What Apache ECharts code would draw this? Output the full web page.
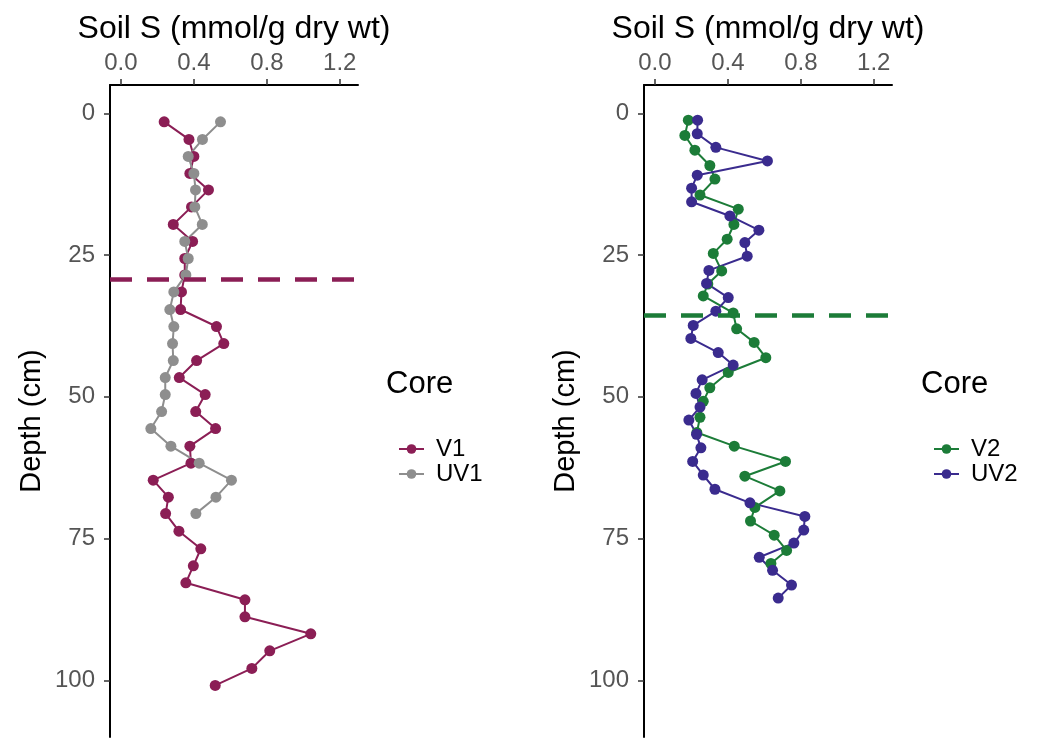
<!DOCTYPE html>
<html>
<head>
<meta charset="utf-8">
<script src="https://cdn.jsdelivr.net/npm/echarts@6/dist/echarts.min.js"></script>
<style>
  html, body { margin: 0; padding: 0; background: #fff; }
  #main { width: 1038px; height: 742px; }
</style>
</head>
<body>
<div id="main"></div>
<script>
// depth (cm) of each section
const v1Depth = [1.5, 4.6, 7.6, 10.6, 13.5, 16.5, 19.6, 22.6, 25.6, 28.5, 31.5, 34.6, 37.6, 40.6, 43.6, 46.6, 49.6, 52.6, 55.6, 58.7, 61.7, 64.7, 67.7, 70.6, 73.7, 76.8, 79.8, 82.8, 85.8, 88.8, 91.8, 94.8, 97.9, 100.9]
const v1S = [0.237, 0.373, 0.40, 0.378, 0.48, 0.387, 0.287, 0.393, 0.35, 0.35, 0.332, 0.327, 0.524, 0.564, 0.415, 0.32, 0.462, 0.41, 0.519, 0.378, 0.384, 0.177, 0.26, 0.245, 0.318, 0.438, 0.397, 0.356, 0.68, 0.68, 1.041, 0.816, 0.718, 0.517]

const uv1Depth = [1.5, 4.6, 7.6, 10.6, 13.5, 16.5, 19.6, 22.6, 25.6, 28.5, 31.5, 34.6, 37.6, 40.6, 43.6, 46.6, 49.6, 52.6, 55.6, 58.7, 61.7, 64.7, 67.7, 70.6]
const uv1S = [0.546, 0.447, 0.369, 0.40, 0.409, 0.405, 0.446, 0.35, 0.369, 0.356, 0.29, 0.268, 0.29, 0.283, 0.287, 0.243, 0.243, 0.223, 0.164, 0.274, 0.429, 0.606, 0.521, 0.411]

const v2Depth = [1.2, 3.9, 6.5, 9.2, 11.6, 14.4, 16.9, 19.6, 22.2, 24.7, 27.8, 30.1, 32.2, 35.2, 38.0, 40.4, 43.1, 45.7, 48.4, 50.8, 53.6, 56.3, 58.7, 61.4, 64.0, 66.6, 69.5, 71.9, 74.4, 77.1, 79.4]
const v2S = [0.183, 0.164, 0.219, 0.301, 0.329, 0.247, 0.457, 0.433, 0.396, 0.32, 0.366, 0.29, 0.265, 0.429, 0.448, 0.544, 0.608, 0.402, 0.301, 0.265, 0.247, 0.23, 0.435, 0.716, 0.493, 0.685, 0.548, 0.524, 0.654, 0.722, 0.636]

const uv2Depth = [1.2, 3.6, 6.0, 8.4, 10.9, 13.2, 15.6, 18.1, 20.6, 22.8, 25.2, 27.7, 30.0, 32.5, 34.9, 37.4, 39.7, 42.2, 44.4, 47.0, 49.4, 51.8, 54.1, 56.6, 59.0, 61.4, 63.8, 66.3, 68.7, 71.1, 73.5, 75.8, 78.3, 80.6, 83.2, 85.5]
const uv2S = [0.234, 0.232, 0.334, 0.617, 0.232, 0.201, 0.201, 0.411, 0.57, 0.493, 0.506, 0.296, 0.283, 0.402, 0.334, 0.21, 0.197, 0.347, 0.429, 0.259, 0.225, 0.247, 0.186, 0.228, 0.252, 0.207, 0.265, 0.329, 0.521, 0.822, 0.816, 0.762, 0.572, 0.645, 0.749, 0.676]

// dashed horizontal lines
const v1Cut = 29.3
const v2Cut = 35.6

const xTicks = [0, 0.4, 0.8, 1.2]
const yTicks = [0, 25, 50, 75, 100]

const colors = {
  V1: '#8B1E55',
  UV1: '#8E8E8E',
  V2: '#1C7C38',
  UV2: '#3A2B8E'
}

const FONT = 'Liberation Sans, Arial, Helvetica, sans-serif'

let chart = echarts.init(document.getElementById('main'))

function pairs(xs, ds) {
  return xs.map((v, i) => [v, ds[i]])
}

function makeX(idx) {
  return {
    gridIndex: idx,
    type: 'value',
    position: 'top',
    min: -0.06,
    max: 1.3,
    name: 'Soil S (mmol/g dry wt)',
    nameLocation: 'middle',
    nameGap: 40,
    nameTextStyle: { fontSize: 32, color: '#000', fontFamily: FONT },
    axisLine: { onZero: false, lineStyle: { color: '#000', width: 2 } },
    axisTick: { customValues: xTicks, length: 6, lineStyle: { color: '#333', width: 1.5 } },
    axisLabel: {
      customValues: xTicks,
      formatter: v => v.toFixed(1),
      fontSize: 24, color: '#555', fontFamily: FONT, margin: 10
    },
    splitLine: { show: false }
  }
}

function makeY(idx) {
  return {
    gridIndex: idx,
    type: 'value',
    inverse: true,
    min: -5,
    max: 110,
    name: 'Depth (cm)',
    nameLocation: 'middle',
    nameGap: 64,
    // right padding nudges the rotated title a little down
    nameTextStyle: { fontSize: 29, color: '#000', fontFamily: FONT, padding: [0, 20, 0, 0] },
    axisLine: { onZero: false, lineStyle: { color: '#000', width: 2 } },
    axisTick: { customValues: yTicks, length: 6, lineStyle: { color: '#333', width: 1.5 } },
    axisLabel: { customValues: yTicks, fontSize: 24, color: '#555', fontFamily: FONT, margin: 15 },
    splitLine: { show: false }
  }
}

function makeSeries(name, data, idx, cut) {
  let s = {
    name: name,
    type: 'line',
    xAxisIndex: idx,
    yAxisIndex: idx,
    data: data,
    color: colors[name],
    symbol: 'circle',
    symbolSize: 11,
    lineStyle: { width: 2 },
    animation: false
  }
  if (cut != null) {
    s.markLine = {
      silent: true,
      symbol: ['none', 'none'],
      label: { show: false },
      lineStyle: { color: colors[name], type: [22, 15], width: 4.5 },
      data: [{ yAxis: cut }]
    }
  }
  return s
}

function makeLegend(names, left) {
  return {
    data: names, orient: 'vertical', left: left, top: 432,
    itemWidth: 25, itemHeight: 12, itemGap: 1,
    textStyle: { fontSize: 24, lineHeight: 20, color: '#000', fontFamily: FONT, padding: [0, 0, 0, 7] }
  }
}

let option = {
  backgroundColor: '#fff',
  textStyle: { fontFamily: FONT },
  grid: [
    { left: 110, top: 85, width: 248, height: 652 },
    { left: 644, top: 85, width: 248, height: 652 }
  ],
  xAxis: [makeX(0), makeX(1)],
  yAxis: [makeY(0), makeY(1)],
  title: [
    { text: 'Core', left: 381, top: 364, textStyle: { fontSize: 31, fontWeight: 'normal', color: '#000', fontFamily: FONT } },
    { text: 'Core', left: 916, top: 364, textStyle: { fontSize: 31, fontWeight: 'normal', color: '#000', fontFamily: FONT } }
  ],
  legend: [
    makeLegend(['V1', 'UV1'], 393),
    makeLegend(['V2', 'UV2'], 928)
  ],
  series: [
    makeSeries('V1', pairs(v1S, v1Depth), 0, v1Cut),
    makeSeries('UV1', pairs(uv1S, uv1Depth), 0, null),
    makeSeries('V2', pairs(v2S, v2Depth), 1, v2Cut),
    makeSeries('UV2', pairs(uv2S, uv2Depth), 1, null)
  ]
}

chart.setOption(option)
</script>
</body>
</html>
